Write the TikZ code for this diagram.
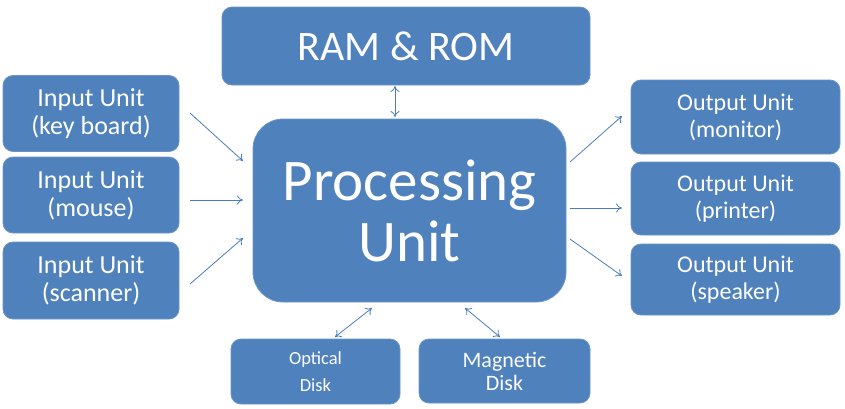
\documentclass[tikz,border=0pt]{standalone}
\usepackage{fontspec}
\setmainfont{Carlito}
\usetikzlibrary{arrows.meta}
\definecolor{boxblue}{HTML}{4F81BD}
\definecolor{edgeblue}{HTML}{6A95C8}
\definecolor{arrblue}{HTML}{4A7EBB}
\begin{document}
\begin{tikzpicture}[x=1pt,y=-1pt,
  unitbox/.style={fill=boxblue,draw=edgeblue,line width=0.8pt,rounded corners=10pt,text=white,align=center,inner sep=0pt},
  conn/.style={draw=arrblue,line width=0.8pt,-{To[length=6pt,width=9pt]}},
  dconn/.style={draw=arrblue,line width=0.8pt,{To[length=6pt,width=9pt]}-{To[length=6pt,width=9pt]}}]
\useasboundingbox (0,0) rectangle (845,408);
\node[unitbox,minimum width=368pt,minimum height=78pt,font=\fontsize{42}{46}\selectfont] (ram) at (406,46) {RAM \& ROM};
\node[unitbox,minimum width=176pt,minimum height=76pt,font=\fontsize{26}{28}\selectfont] (in1) at (91,113.5) {Input Unit\\(key board)};
\node[unitbox,minimum width=176pt,minimum height=76pt,font=\fontsize{26}{28}\selectfont] (in2) at (91,195) {Input Unit\\(mouse)};
\node[unitbox,minimum width=176pt,minimum height=77pt,font=\fontsize{26}{28}\selectfont] (in3) at (91,280.5) {Input Unit\\(scanner)};
\node[unitbox,rounded corners=30pt,minimum width=313pt,minimum height=183pt,font=\fontsize{59}{61}\selectfont] (pu) at (409.5,210.5) {Processing\\Unit};
\node[unitbox,minimum width=209pt,minimum height=74pt,font=\fontsize{24}{27}\selectfont] (out1) at (735.5,117) {Output Unit\\(monitor)};
\node[unitbox,minimum width=209pt,minimum height=73pt,font=\fontsize{24}{27}\selectfont] (out2) at (735.5,198.5) {Output Unit\\(printer)};
\node[unitbox,minimum width=209pt,minimum height=71pt,font=\fontsize{24}{27}\selectfont] (out3) at (735.5,279.5) {Output Unit\\(speaker)};
\node[unitbox,minimum width=169pt,minimum height=65pt,font=\fontsize{18.5}{27}\selectfont] (opt) at (315.5,371.5) {Optical\\Disk};
\node[unitbox,minimum width=171pt,minimum height=64pt,font=\fontsize{22}{23}\selectfont] (mag) at (504.5,371) {Magnetic\\Disk};
\coordinate (a1s) at (190,113); \coordinate (a1e) at (243,161);
\coordinate (a2s) at (190,200); \coordinate (a2e) at (243,200);
\coordinate (a3s) at (190,284); \coordinate (a3e) at (243,238);
\coordinate (b1s) at (570,162); \coordinate (b1e) at (622,116);
\coordinate (b2s) at (570,208); \coordinate (b2e) at (622,208);
\coordinate (b3s) at (570,239); \coordinate (b3e) at (622,276);
\coordinate (r1) at (395,86); \coordinate (r2) at (395,117);
\coordinate (o1) at (335,337); \coordinate (o2) at (372,308);
\coordinate (m1) at (465,308); \coordinate (m2) at (500,337);
\draw[conn] (a1s) -- (a1e);
\draw[conn] (a2s) -- (a2e);
\draw[conn] (a3s) -- (a3e);
\draw[conn] (b1s) -- (b1e);
\draw[conn] (b2s) -- (b2e);
\draw[conn] (b3s) -- (b3e);
\draw[dconn] (r1) -- (r2);
\draw[dconn] (o1) -- (o2);
\draw[dconn] (m1) -- (m2);
\end{tikzpicture}
\end{document}
